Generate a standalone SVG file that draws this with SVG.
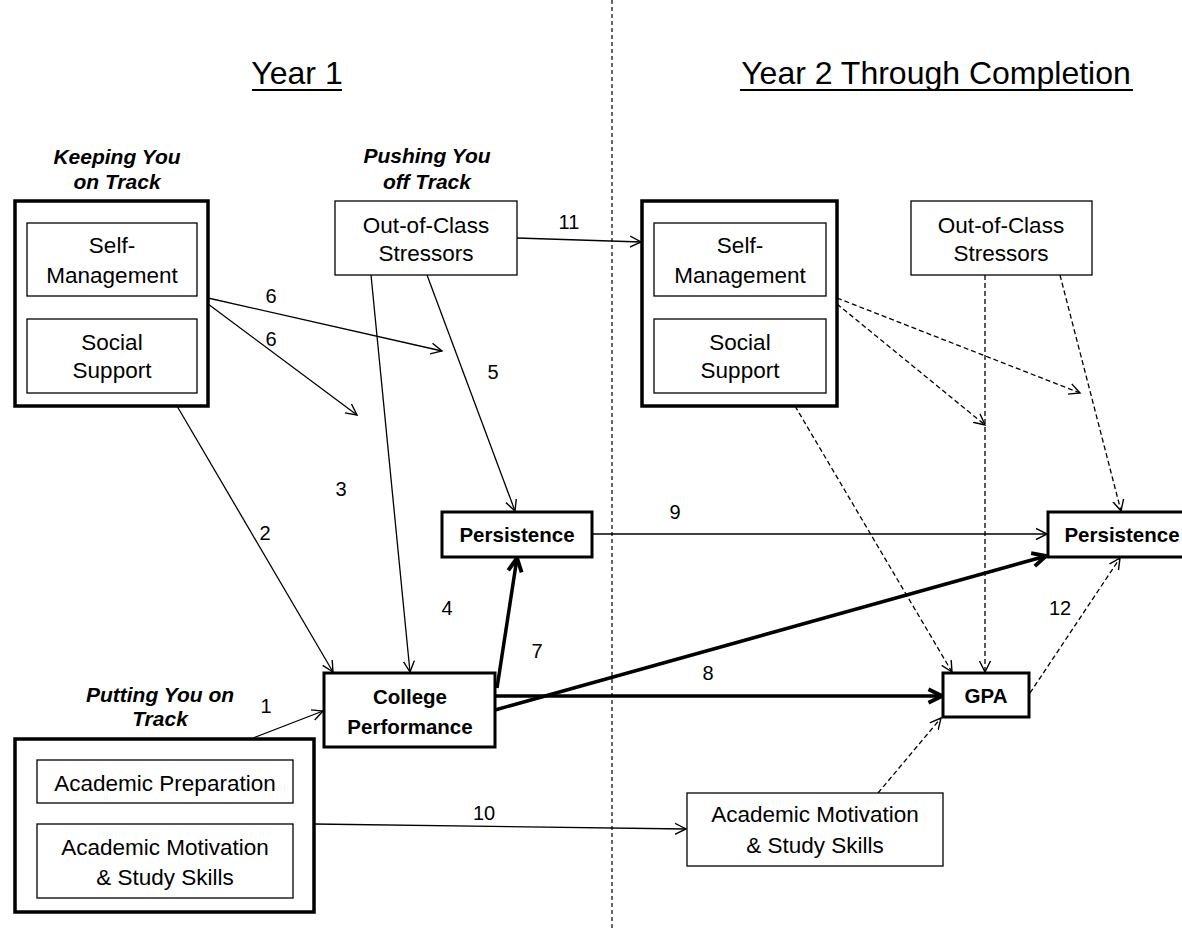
<svg xmlns="http://www.w3.org/2000/svg" width="1182" height="929" viewBox="0 0 1182 929">
<style>
.bg{fill:#fff}
.outer{fill:#fff;stroke:#000;stroke-width:3.5}
.inner{fill:#fff;stroke:#000;stroke-width:1.3}
.plain{fill:#fff;stroke:#000;stroke-width:1.3}
.key{fill:#fff;stroke:#000;stroke-width:3}
.t{font-family:"Liberation Sans",Arial,sans-serif;font-size:22.5px;fill:#000;text-anchor:middle}
.b{font-family:"Liberation Sans",Arial,sans-serif;font-size:20.5px;font-weight:bold;fill:#000;text-anchor:middle}
.h{font-family:"Liberation Sans",Arial,sans-serif;font-size:21px;font-weight:bold;font-style:italic;fill:#000;text-anchor:middle}
.title{font-family:"Liberation Sans",Arial,sans-serif;font-size:32px;fill:#000;text-anchor:middle}
.num{font-family:"Liberation Sans",Arial,sans-serif;font-size:20px;fill:#000;text-anchor:middle}
.thin{fill:none;stroke:#000;stroke-width:1.3;marker-end:url(#a)}
.dash{fill:none;stroke:#000;stroke-width:1.3;stroke-dasharray:5 3;marker-end:url(#a)}
.thick{fill:none;stroke:#000;stroke-width:3.5;marker-end:url(#ab)}
</style>
<defs>
<marker id="a" markerUnits="userSpaceOnUse" markerWidth="14" markerHeight="14" refX="11" refY="6" orient="auto" viewBox="0 0 14 12">
<path d="M0,0.5 L11,6 L0,11.5" fill="none" stroke="#000" stroke-width="1.4"/>
</marker>
<marker id="ab" markerUnits="userSpaceOnUse" markerWidth="18" markerHeight="18" refX="13" refY="7" orient="auto" viewBox="0 0 16 14">
<path d="M1,1 L13,7 L1,13" fill="none" stroke="#000" stroke-width="3.5"/>
</marker>
</defs>
<rect class="bg" x="0" y="0" width="1182" height="929"/>

<g id="divider">
<line x1="612" y1="0" x2="612" y2="929" stroke="#000" stroke-width="1.2" stroke-dasharray="4 3"/>
</g>

<g id="titles">
<text class="title" x="297" y="84">Year 1</text>
<line x1="252" y1="90" x2="342" y2="90" stroke="#000" stroke-width="2"/>
<text class="title" x="936" y="84">Year 2 Through Completion</text>
<line x1="740" y1="90" x2="1133" y2="90" stroke="#000" stroke-width="2"/>
</g>

<g id="headings">
<text class="h" x="117" y="164">Keeping You</text>
<text class="h" x="117" y="189">on Track</text>
<text class="h" x="427" y="163">Pushing You</text>
<text class="h" x="427" y="189">off Track</text>
<text class="h" x="160" y="702">Putting You on</text>
<text class="h" x="160" y="726">Track</text>
</g>

<g id="connectors">
<line class="thin" x1="253" y1="738" x2="323" y2="711"/>
<line class="thin" x1="177" y1="406" x2="333" y2="672"/>
<line class="thin" x1="371" y1="275" x2="410" y2="672"/>
<line class="thin" x1="427" y1="275" x2="515" y2="511"/>
<line class="thin" x1="208" y1="298" x2="442" y2="351"/>
<line class="thin" x1="208" y1="304" x2="357" y2="415"/>
<line class="thin" x1="517" y1="238" x2="641" y2="242"/>
<line class="thin" x1="592" y1="534" x2="1047" y2="534"/>
<line class="thin" x1="314" y1="824" x2="686" y2="829"/>
<line class="thick" x1="497" y1="688" x2="517" y2="558"/>
<line class="thick" x1="495" y1="696" x2="942" y2="696"/>
<line class="thick" x1="495" y1="710" x2="1046" y2="556"/>
<line class="dash" x1="837" y1="298" x2="1080" y2="393"/>
<line class="dash" x1="837" y1="304" x2="985" y2="425"/>
<line class="dash" x1="795" y1="406" x2="952" y2="672"/>
<line class="dash" x1="985" y1="275" x2="985" y2="672"/>
<line class="dash" x1="1060" y1="275" x2="1121" y2="511"/>
<line class="dash" x1="1030" y1="693" x2="1120" y2="558"/>
<line class="dash" x1="878" y1="793" x2="941" y2="718"/>
</g>

<g id="labels">
<text class="num" x="266" y="713">1</text>
<text class="num" x="265" y="540">2</text>
<text class="num" x="341" y="496">3</text>
<text class="num" x="447" y="615">4</text>
<text class="num" x="493" y="379">5</text>
<text class="num" x="271" y="303">6</text>
<text class="num" x="271" y="346">6</text>
<text class="num" x="537" y="658">7</text>
<text class="num" x="708" y="680">8</text>
<text class="num" x="675" y="519">9</text>
<text class="num" x="484" y="820">10</text>
<text class="num" x="569" y="229">11</text>
<text class="num" x="1060" y="615">12</text>
</g>

<g id="keeping-y1">
<rect class="outer" x="15" y="201" width="193" height="205"/>
<rect class="inner" x="27" y="223" width="170" height="73"/>
<text class="t" x="112" y="253">Self-</text>
<text class="t" x="112" y="283">Management</text>
<rect class="inner" x="27" y="319" width="170" height="74"/>
<text class="t" x="112" y="350">Social</text>
<text class="t" x="112" y="378">Support</text>
</g>

<g id="stressors-y1">
<rect class="plain" x="335" y="201" width="182" height="74"/>
<text class="t" x="426" y="233">Out-of-Class</text>
<text class="t" x="426" y="261">Stressors</text>
</g>

<g id="persistence-y1">
<rect class="key" x="442" y="512" width="150" height="45"/>
<text class="b" x="517" y="542">Persistence</text>
</g>

<g id="college-performance">
<rect class="key" x="324" y="673" width="171" height="74"/>
<text class="b" x="410" y="704">College</text>
<text class="b" x="410" y="734">Performance</text>
</g>

<g id="putting-y1">
<rect class="outer" x="15" y="739" width="299" height="173"/>
<rect class="inner" x="37" y="760" width="256" height="43"/>
<text class="t" x="165" y="791">Academic Preparation</text>
<rect class="inner" x="37" y="824" width="256" height="74"/>
<text class="t" x="165" y="855">Academic Motivation</text>
<text class="t" x="165" y="885">&amp; Study Skills</text>
</g>

<g id="keeping-y2">
<rect class="outer" x="642" y="201" width="195" height="205"/>
<rect class="inner" x="654" y="223" width="172" height="73"/>
<text class="t" x="740" y="253">Self-</text>
<text class="t" x="740" y="283">Management</text>
<rect class="inner" x="654" y="319" width="172" height="74"/>
<text class="t" x="740" y="350">Social</text>
<text class="t" x="740" y="378">Support</text>
</g>

<g id="stressors-y2">
<rect class="plain" x="911" y="201" width="181" height="74"/>
<text class="t" x="1001" y="233">Out-of-Class</text>
<text class="t" x="1001" y="261">Stressors</text>
</g>

<g id="persistence-y2">
<rect class="key" x="1048" y="512" width="152" height="45"/>
<text class="b" x="1122" y="542">Persistence</text>
</g>

<g id="gpa">
<rect class="key" x="943" y="673" width="86" height="44"/>
<text class="b" x="986" y="703">GPA</text>
</g>

<g id="motivation-y2">
<rect class="plain" x="687" y="793" width="256" height="73"/>
<text class="t" x="815" y="822">Academic Motivation</text>
<text class="t" x="815" y="853">&amp; Study Skills</text>
</g>
</svg>
